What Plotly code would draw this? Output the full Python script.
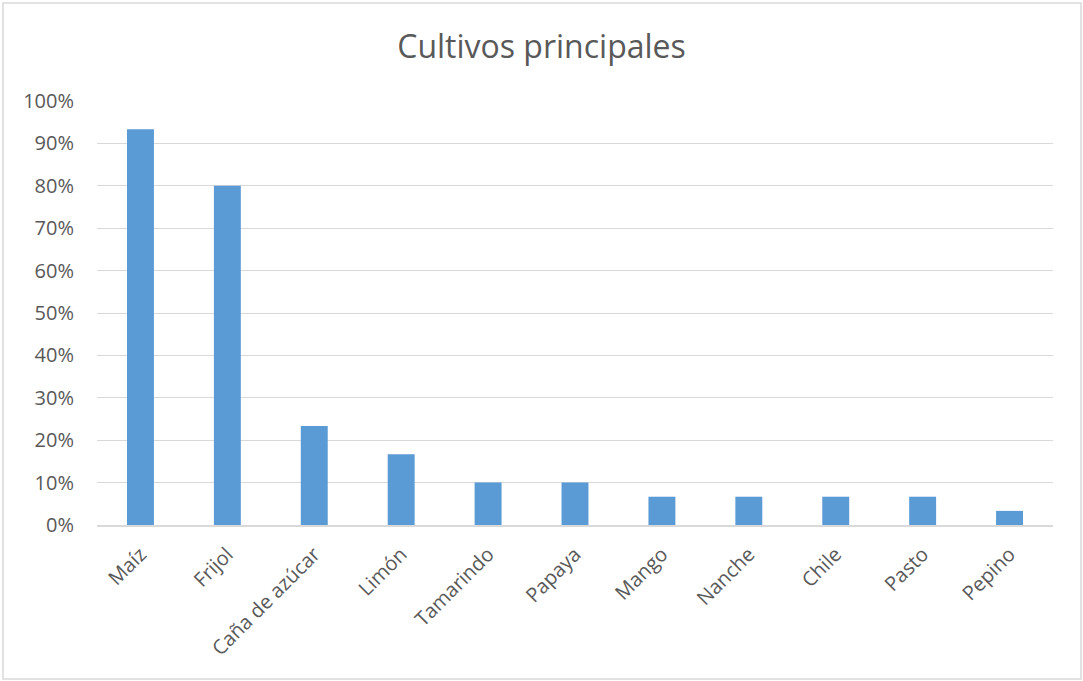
import plotly.graph_objects as go

# Crop shares (fraction of respondents)
cultivos = ["Maíz", "Frijol", "Caña de azúcar", "Limón", "Tamarindo", "Papaya",
            "Mango", "Nanche", "Chile", "Pasto", "Pepino"]
porcentajes = [0.9333, 0.80, 0.2333, 0.1667, 0.10, 0.10,
               0.0667, 0.0667, 0.0667, 0.0667, 0.0333]
y_ticks = [0, 0.1, 0.2, 0.3, 0.4, 0.5, 0.6, 0.7, 0.8, 0.9, 1.0]

W, H = 1083, 681
L, R, T, B = 97, 30, 101, 156
pw, ph = W - L - R, H - T - B

fig = go.Figure(go.Bar(
    x=cultivos, y=porcentajes,
    marker=dict(color="#5B9BD5", line=dict(width=0)),
))

font_family = "Open Sans, Liberation Sans, sans-serif"

# outer frame of the chart area (pixel positions converted to paper units)
fig.add_shape(type="rect", xref="paper", yref="paper",
              x0=(3 - L) / pw, x1=(W - 2 - L) / pw,
              y0=(T + ph - (H - 2)) / ph, y1=(T + ph - 3) / ph,
              line=dict(color="#D9D9D9", width=1.5), layer="below")

fig.update_layout(
    width=W, height=H,
    margin=dict(l=L, r=R, t=T, b=B),
    paper_bgcolor="white", plot_bgcolor="white",
    bargap=0.69,
    showlegend=False,
    title=dict(text="Cultivos principales", x=0.5, xanchor="center",
               y=1 - 47 / H, yanchor="middle",
               font=dict(family=font_family, size=32, color="#595959")),
    font=dict(family=font_family, color="#595959", size=20),
    xaxis=dict(tickangle=-45, showgrid=False, showline=True,
               linecolor="#D9D9D9", linewidth=1.5, ticks="",
               ticklabelstandoff=8,
               tickfont=dict(size=20, color="#595959")),
    yaxis=dict(range=[0, 1.0], tickvals=y_ticks, tickformat=".0%",
               showgrid=True, gridcolor="#D9D9D9", gridwidth=1,
               zeroline=False, showline=False, ticks="",
               ticklabelstandoff=22,
               tickfont=dict(size=20, color="#595959")),
)

fig.write_html("out.html")
